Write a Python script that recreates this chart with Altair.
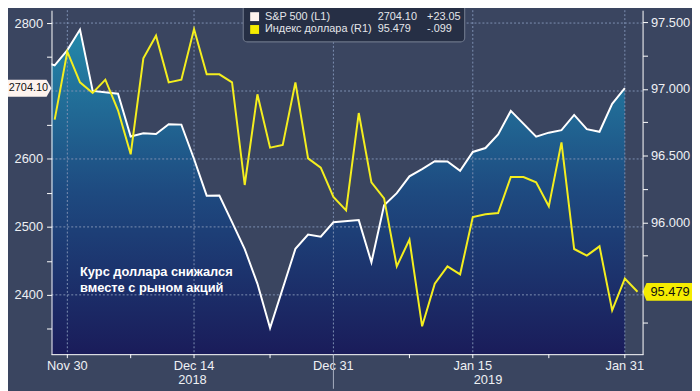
import altair as alt
import pandas as pd

# ---------------- data (x = weekday index, 0 = Thu Nov 29 2018) ----------------
sp_idx = [-1, 0, 1, 2, 3, 5, 6, 7, 8, 9, 10, 11, 12, 13, 14, 15, 16, 17, 19, 20, 21, 22,
          24, 25, 26, 27, 28, 29, 30, 31, 32, 33, 34, 35, 36, 38, 39, 40, 41, 42, 43, 44, 45]
sp_val = [2743.79, 2737.80, 2760.17, 2790.37, 2700.06, 2695.95, 2633.08, 2637.72, 2636.78, 2651.07,
          2650.54, 2599.95, 2545.94, 2546.16, 2506.96, 2467.42, 2416.62, 2351.10, 2467.70,
          2488.83, 2485.74, 2506.85, 2510.03, 2447.89, 2531.94, 2549.69, 2574.41, 2584.96,
          2596.64, 2596.26, 2582.61, 2610.30, 2616.10, 2635.96, 2670.71, 2632.90, 2638.70,
          2642.33, 2664.76, 2643.85, 2640.00, 2681.05, 2704.10]

dxy_idx = [0, 1, 2, 3, 4, 5, 6, 7, 8, 9, 10, 11, 12, 13, 14, 15, 16, 17, 18, 19, 20, 21, 22, 23,
           24, 25, 26, 27, 28, 29, 30, 31, 32, 33, 34, 35, 36, 37, 38, 39, 40, 41, 42, 43, 44, 45, 46]
dxy_val = [96.77, 97.28, 97.05, 96.97, 97.07, 96.84, 96.51, 97.23, 97.40, 97.05, 97.07, 97.45,
           97.11, 97.11, 97.05, 96.28, 96.96, 96.56, 96.58, 97.05, 96.48, 96.41, 96.19, 96.09,
           96.82, 96.30, 96.18, 95.67, 95.87, 95.22, 95.54, 95.67, 95.61, 96.04, 96.06, 96.07,
           96.34, 96.34, 96.30, 96.12, 96.60, 95.80, 95.75, 95.82, 95.34, 95.578, 95.479]

x_tick_idx = [1, 6, 11, 17, 22, 28, 33, 39, 45]
x_tick_lbl = ["Nov 30", "", "Dec 14", "", "Dec 31", "", "Jan 15", "", "Jan 31"]
year_lbl = ["2018", "2019"]
year_split = 22

left_ticks = [2350, 2400, 2450, 2500, 2550, 2600, 2650, 2750, 2800]
left_grid = [2400, 2500, 2600, 2700, 2800]
right_ticks = [95.25, 95.75, 96.0, 96.25, 96.5, 96.75, 97.0, 97.25, 97.5]

legend_names = ["S&P 500 (L1)", "Индекс доллара (R1)"]
annotation = ["Курс доллара снижался", "вместе с рыном акций"]

# ---------------- layout / style ----------------
W, H = 598, 348
PAD = {"left": 44, "right": 50, "top": 0, "bottom": 35}
FONT = "Liberation Sans"
WHITE = "#fdf3ee"
YELLOW = "#f4ee1e"
LABEL = "#eef0f4"
GRID = "#7d90b2"

x_dom = [-0.25, 46.4]
xs = alt.Scale(domain=x_dom, nice=False, zero=False)
yl = alt.Scale(domain=[2312.7, 2818.9], nice=False, zero=False)
yr = alt.Scale(domain=[95.011, 97.591], nice=False, zero=False)

sp_df = pd.DataFrame({"i": sp_idx, "v": sp_val})
dxy_df = pd.DataFrame({"i": dxy_idx, "v": dxy_val})
sp_last = sp_df.tail(1)
dxy_last = dxy_df.tail(1)
ticks_df = pd.DataFrame({"i": x_tick_idx, "t": x_tick_lbl})
major_df = ticks_df[ticks_df["t"] != ""]
one = pd.DataFrame({"a": [0]})

sp_chg = sp_val[-1] - sp_val[-2]
dxy_chg = dxy_val[-1] - dxy_val[-2]
legend_vals = [f"{sp_val[-1]:.2f}", f"{dxy_val[-1]:.3f}"]
legend_chg = [f"{sp_chg:+.2f}", f"{dxy_chg:+.3f}".replace("0.", ".")]
legend_cols = [WHITE, "#f5ec00"]

left_axis = alt.Axis(values=left_ticks, format="d",
                     labelExpr="datum.value % 100 == 0 ? datum.label : ''",
                     grid=False, domainColor="white", tickColor="white", labelColor=LABEL,
                     labelFont=FONT, labelFontSize=13, tickSize=5, labelPadding=4,
                     title=None, zindex=1)
right_axis = alt.Axis(orient="right", values=right_ticks,
                      labelExpr="round(datum.value*4) % 2 == 0 ? format(datum.value, '.3f') : ''",
                      grid=False, domainColor="white", tickColor="white", labelColor=LABEL,
                      labelFont=FONT, labelFontSize=13, tickSize=5, labelPadding=3,
                      title=None, zindex=1)

area_grad = alt.Gradient(gradient="linear", x1=0, x2=0, y1=1, y2=0,
                         stops=[alt.GradientStop(color="#1a1c5a", offset=0),
                                alt.GradientStop(color="#1e4a80", offset=0.5),
                                alt.GradientStop(color="#2489aa", offset=1)])

X = lambda: alt.X("i:Q", scale=xs, axis=None)

# ---------------- S&P (left scale) ----------------
area = alt.Chart(sp_df).mark_area(color=area_grad, opacity=1, clip=True).encode(
    x=X(), y=alt.Y("v:Q", scale=yl, axis=left_axis, stack=None), y2=alt.value(H))
grid_h = alt.Chart(pd.DataFrame({"v": left_grid})).mark_rule(
    color=GRID, strokeDash=[2, 2], strokeWidth=1).encode(
    y=alt.Y("v:Q", scale=yl, axis=None), x=alt.value(0), x2=alt.value(W))
grid_v = alt.Chart(major_df).mark_rule(color=GRID, strokeDash=[2, 2], strokeWidth=1).encode(
    x=X(), y=alt.value(0), y2=alt.value(H))
sp_line = alt.Chart(sp_df).mark_line(color="white", strokeWidth=2, clip=True).encode(
    x=X(), y=alt.Y("v:Q", scale=yl, axis=None))
note = alt.Chart(one).mark_text(text=annotation, align="left", baseline="alphabetic",
                                font=FONT, fontSize=13, fontWeight="bold", lineHeight=16,
                                color="white").encode(
    x=alt.XDatum(2.0, scale=xs, axis=None), y=alt.YDatum(2428, scale=yl, axis=None))
tag_l = alt.Chart(sp_last).mark_point(shape="M-1,-0.34L0.8,-0.34L1,0L0.8,0.34L-1,0.34Z",
                                      size=2500, filled=True, fill=WHITE, opacity=1,
                                      strokeWidth=0).encode(
    x=alt.value(-25), y=alt.Y("v:Q", scale=yl, axis=None))
tag_l_txt = alt.Chart(sp_last).mark_text(align="right", baseline="middle", font=FONT,
                                         fontSize=11, color="#111111").encode(
    x=alt.value(-3.5), y=alt.Y("v:Q", scale=yl, axis=None), text=alt.Text("v:Q", format=".2f"))

# ---------------- dollar (right scale) ----------------
dxy_line = alt.Chart(dxy_df).mark_line(color=YELLOW, strokeWidth=2).encode(
    x=X(), y=alt.Y("v:Q", scale=yr, axis=right_axis))
tag_r = alt.Chart(dxy_last).mark_point(shape="M-1,0L-0.84,-0.36L1,-0.36L1,0.36L-0.84,0.36Z",
                                       size=2500, filled=True, fill="#f5ec00", opacity=1,
                                       strokeWidth=0).encode(
    x=alt.value(W + 25), y=alt.Y("v:Q", scale=yr, axis=None))
tag_r_txt = alt.Chart(dxy_last).mark_text(align="left", baseline="middle", font=FONT,
                                          fontSize=13, color="#111111").encode(
    x=alt.value(W + 8), y=alt.Y("v:Q", scale=yr, axis=None), text=alt.Text("v:Q", format=".3f"))

# ---------------- x axis drawn from the tick lists ----------------
x_domain_line = alt.Chart(one).mark_rule(color="white", strokeWidth=1).encode(
    x=alt.value(0), x2=alt.value(W + 1), y=alt.value(H + 0.5))
x_ticks = alt.Chart(ticks_df).mark_rule(color="white", strokeWidth=1).encode(
    x=X(), y=alt.value(H), y2=alt.value(H + 4))
x_labels = alt.Chart(major_df).mark_text(align="center", baseline="middle", font=FONT,
                                         fontSize=13, color=LABEL).encode(
    x=X(), y=alt.value(H + 12), text="t:N")
sep = alt.Chart(one).mark_rule(color="#a7afc0", strokeWidth=1).encode(
    x=alt.XDatum(year_split, scale=xs, axis=None), y=alt.value(H), y2=alt.value(H + PAD["bottom"]))
year_pos = [(x_dom[0] + year_split) / 2, (year_split + x_dom[1]) / 2]
years = [alt.Chart(one).mark_text(text=t, align="center", baseline="middle", font=FONT,
                                  fontSize=13, color=LABEL).encode(
    x=alt.XDatum(p, scale=xs, axis=None), y=alt.value(H + 26)) for t, p in zip(year_lbl, year_pos)]

# ---------------- legend box ----------------
leg = [alt.Chart(one).mark_rect(fill="#262f45", stroke="#6b7488", strokeWidth=1.2,
                                cornerRadius=4).encode(
    x=alt.value(194), x2=alt.value(418), y=alt.value(-6), y2=alt.value(32))]
for k, yc in enumerate([6.5, 19.5]):
    leg.append(alt.Chart(one).mark_rect(fill=legend_cols[k]).encode(
        x=alt.value(201), x2=alt.value(210), y=alt.value(yc - 4.5), y2=alt.value(yc + 4.5)))
    for xp, t in [(216, legend_names[k]), (330, legend_vals[k]), (380, legend_chg[k])]:
        leg.append(alt.Chart(one).mark_text(text=t, align="left", baseline="middle", font=FONT,
                                            fontSize=11, color="#e4e6ea").encode(
            x=alt.value(xp), y=alt.value(yc)))

chart = alt.layer(area, grid_h, grid_v, sp_line, note, tag_l, tag_l_txt,
                  dxy_line, tag_r, tag_r_txt, x_domain_line, x_ticks, x_labels, sep,
                  *years, *leg).resolve_scale(
    y="independent"
).properties(
    width=W, height=H, padding=PAD, autosize=alt.AutoSizeParams(type="none"),
    background="#3a4560"
).configure_view(strokeWidth=0)

chart.save("out.html", embed_options={"renderer": "svg", "actions": False})
